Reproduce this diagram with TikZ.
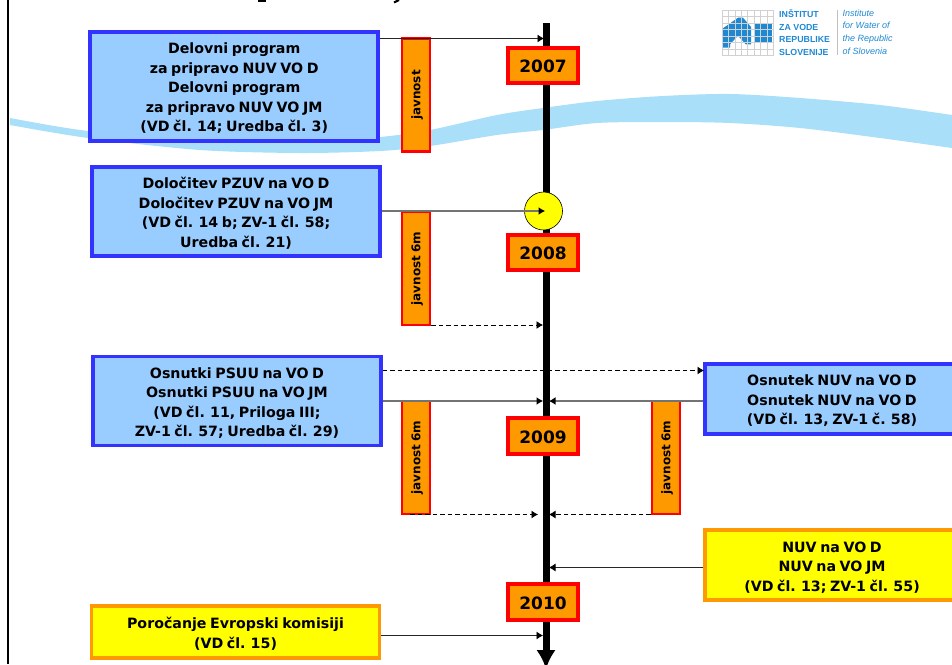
\documentclass[tikz,border=0pt]{standalone}
\usepackage{fontspec}
\setmainfont[WordSpace=0.72]{DejaVu Sans}
\newfontfamily\logofont{Liberation Sans}
\usetikzlibrary{arrows.meta}
\definecolor{wave}{HTML}{A9DFF8}
\definecolor{boxblue}{HTML}{99CCFF}
\definecolor{lineblue}{HTML}{3333FF}
\definecolor{boxorange}{HTML}{FF9900}
\definecolor{boxyellow}{HTML}{FFFF00}
\definecolor{boxred}{HTML}{FF0000}
\definecolor{logoblue}{HTML}{1E88D2}
\newcommand{\toppad}{\rule{0pt}{15pt}}
\begin{document}
\begin{tikzpicture}[x=1pt, y=-1pt, -{Latex[length=6.5pt,width=8pt,black]},
    blue node/.style={draw=lineblue, fill=boxblue, line width=3.6pt, align=center, font=\fontsize{14.2}{19.5}\selectfont\bfseries, inner sep=0pt},
    yellow node/.style={draw=boxorange, fill=boxyellow, line width=3.6pt, align=center, font=\fontsize{14.2}{19.5}\selectfont\bfseries, inner sep=0pt},
    year node/.style={draw=boxred, fill=boxorange, line width=3.6pt, minimum width=70pt, minimum height=35.5pt, inner sep=0pt, text height=14.5pt, text depth=0pt, font=\fontsize{17}{20}\selectfont\bfseries},
    public node/.style={draw=boxred, fill=boxorange, line width=2.4pt, rotate=90, minimum width=113pt, minimum height=28pt, inner sep=0pt, text height=11pt, text depth=2.5pt, font=\fontsize{12}{14}\selectfont\bfseries},
    logo text/.style={inner sep=0pt, anchor=north west, align=left, text=logoblue, font=\logofont\bfseries\fontsize{8.8}{12.6}\selectfont},
    thin line/.style={draw=black!85, line width=0.8pt},
    grey line/.style={draw=black!55, line width=1.2pt},
    dash line/.style={draw=black, line width=0.9pt, dash pattern=on 4.5pt off 3pt}]
  \path[use as bounding box, clip] (0,0) rectangle (952,664);

  % water band
  \fill[wave] plot[smooth] coordinates {(10,118) (88,131) (200,140) (300,142) (380,137) (430,130) (497,115) (543,108) (597,101) (663,96) (730,94) (800,98) (880,105) (952,115)}
    -- plot[smooth] coordinates {(952,148) (880,138) (800,128) (730,123) (663,122) (597,123) (543,130) (497,135) (430,146) (380,151) (300,153) (200,150) (88,138) (10,125)} -- cycle;

  % page edge and title remains
  \draw[-, line width=2.4pt] (8,0) -- (8,664);
  \draw[-, line width=2.2pt] (258,1) -- (266,1);
  \draw[-, line width=2.2pt] (399,0) -- (394,2.5);

  % logo
  \fill[logoblue] (722,47.7) -- (722,29) -- (738,17.7) -- (743,17.7) -- (751,27) -- (751,44.3) -- (745.7,44.3) -- (738,35.7) -- (730,44.3) -- (730,47.7) -- cycle;
  \fill[logoblue] (754.3,23.3) rectangle (772.3,43.3);
  \foreach \i in {0,...,8} {
    \draw[-, black!18, line width=0.35pt] (722+\i*6.4,10) -- (722+\i*6.4,56);
  }
  \foreach \i in {0,...,7} {
    \draw[-, black!18, line width=0.35pt] (722,10+\i*6.5) -- (773,10+\i*6.5);
  }
  \draw[-, black!25, line width=0.4pt] (837,10) -- (837,55);
  \node[logo text] (logoslo) at (779,9.5) {INŠTITUT\\ZA VODE\\REPUBLIKE\\SLOVENIJE};
  \node[logo text, font=\logofont\itshape\fontsize{9}{12.6}\selectfont] (logoeng) at (842.5,9.5) {Institute\\for Water of\\the Republic\\of Slovenia};

  % time axis
  \coordinate (top) at (546,23);
  \coordinate (bottom) at (546,669);
  \draw[line width=7pt, -{Latex[length=19pt,width=19.5pt]}] (top) -- (bottom);

  \node[draw, fill=boxyellow, circle, minimum size=38pt, inner sep=0pt, line width=0.6pt] (mark) at (543.5,211) {};

  \node[year node] (y2007) at (543,65.5) {2007};
  \node[year node] (y2008) at (543,252.5) {2008};
  \node[year node] (y2009) at (543,436) {2009};
  \node[year node] (y2010) at (543,602) {2010};

  \node[public node] (pub1) at (416,95) {javnost};
  \node[public node] (pub2) at (416,268.5) {javnost 6m};
  \node[public node] (pub3) at (416,457.5) {javnost 6m};
  \node[public node] (pub4) at (666,457.5) {javnost 6m};

  \node[blue node, minimum width=288pt, minimum height=109pt] (delovni) at (234.2,86.5) {\toppad Delovni program\\za pripravo NUV VO D\\Delovni program\\za pripravo NUV VO JM\\(VD čl. 14; Uredba čl. 3)};
  \node[blue node, minimum width=288pt, minimum height=89pt] (dolocitev) at (236,211.5) {\toppad Določitev PZUV na VO D\\Določitev PZUV na VO JM\\(VD čl. 14 b; ZV-1 čl. 58;\\Uredba čl. 21)};
  \node[blue node, minimum width=288pt, minimum height=89pt] (osnutki) at (237,401) {\toppad Osnutki PSUU na VO D\\Osnutki PSUU na VO JM\\(VD čl. 11, Priloga III;\\ZV-1 čl. 57; Uredba čl. 29)};
  \node[blue node, minimum width=254pt, minimum height=70.5pt] (osnutek) at (832,399) {\toppad Osnutek NUV na VO D\\Osnutek NUV na VO D\\(VD čl. 13, ZV-1 č. 58)};
  \node[yellow node, minimum width=254pt, minimum height=70.5pt] (nuv) at (832,565) {\toppad NUV na VO D\\NUV na VO JM\\(VD čl. 13; ZV-1 čl. 55)};
  \node[yellow node, minimum width=288pt, minimum height=52.5pt] (porocanje) at (235.5,632) {\toppad Poročanje Evropski komisiji\\(VD čl. 15)};

  % connectors
  \coordinate (a1) at (544,38.5);
  \coordinate (a2) at (545,211);
  \coordinate (a3) at (543,325);
  \coordinate (a4) at (704,370.5);
  \coordinate (a5) at (543,401);
  \coordinate (a6) at (549,401);
  \coordinate (a7) at (538,514.5);
  \coordinate (a7s) at (410,514.5);
  \coordinate (a8) at (549,514.5);
  \coordinate (a9) at (549,567.5);
  \coordinate (a10) at (543,635.5);
  \path (a1 -| delovni.east) edge[thin line] (a1);
  \path (a2 -| dolocitev.east) edge[grey line] (a2);
  \path (a3 -| pub2.south) edge[dash line] (a3);
  \path (a4 -| osnutki.east) edge[dash line] (a4);
  \path (a5 -| osnutki.east) edge[grey line] (a5);
  \path (a6 -| osnutek.west) edge[grey line] (a6);
  \path (a7s) edge[dash line] (a7);
  \path (a8 -| pub4.north) edge[dash line] (a8);
  \path (a9 -| nuv.west) edge[thin line] (a9);
  \path (a10 -| porocanje.east) edge[thin line] (a10);
\end{tikzpicture}
\end{document}
